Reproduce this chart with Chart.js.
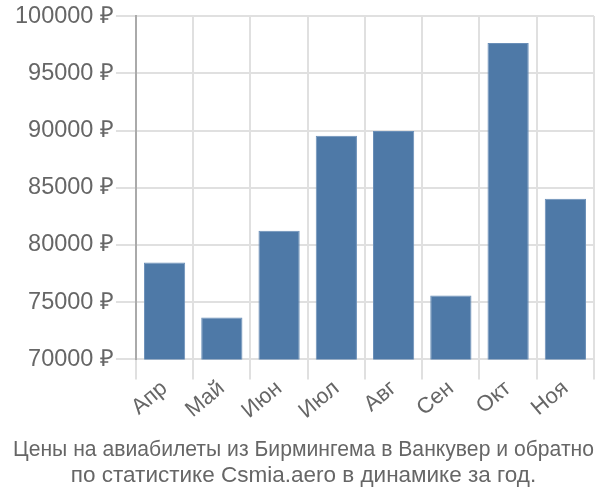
<!DOCTYPE html>
<html>
<head>
<meta charset="utf-8">
<script src="https://cdn.jsdelivr.net/npm/chart.js@4"></script>
<style>
  html, body { margin: 0; padding: 0; background: #fff; }
  #wrap { width: 600px; height: 500px; }
</style>
</head>
<body>
<div id="wrap"><canvas id="priceChart"></canvas></div>
<script>
// Месяцы и цены (руб.)
const months = ['Апр', 'Май', 'Июн', 'Июл', 'Авг', 'Сен', 'Окт', 'Ноя'];
const prices = [78460, 73660, 81250, 89540, 89970, 75580, 97650, 84040];
const yMin = 70000;
const yMax = 100000;
const yStep = 5000;
const titleLines = [
    'Цены на авиабилеты из Бирмингема в Ванкувер и обратно',
    'по статистике Csmia.aero в динамике за год.'
];

const ctx = document.getElementById('priceChart').getContext('2d');
new Chart(ctx, {
    type: 'bar',
    data: {
        labels: months,
        datasets: [{
            data: prices,
            backgroundColor: '#4e79a7',
            borderColor: '#6a8fb8',
            borderWidth: 1
        }]
    },
    options: {
        responsive: true,
        maintainAspectRatio: false,
        animation: false,
        layout: { padding: { left: 13, right: 6, top: 0, bottom: 7 } },
        plugins: {
            legend: { display: false },
            tooltip: { enabled: false },
            title: {
                display: true,
                position: 'bottom',
                text: titleLines,
                color: '#666',
                font: { family: 'Liberation Sans', size: 22.5, weight: 'normal', lineHeight: 1.17 },
                padding: { top: 16, bottom: 4 }
            }
        },
        scales: {
            x: {
                grid: { color: '#e0e0e0', lineWidth: 2, tickLength: 20, offset: true },
                border: { color: '#e0e0e0', width: 2 },
                ticks: {
                    color: '#666',
                    padding: -4,
                    font: { family: 'Liberation Sans', size: 22 },
                    maxRotation: 40,
                    minRotation: 40
                }
            },
            y: {
                min: yMin,
                max: yMax,
                grid: { color: '#e0e0e0', lineWidth: 2, tickLength: 20 },
                border: { color: '#aaa', width: 2 },
                ticks: {
                    stepSize: yStep,
                    color: '#666',
                    padding: 2,
                    font: { family: 'Liberation Sans', size: 23.5 },
                    callback: function(value) {
                        return value + ' ₽';
                    }
                }
            }
        }
    }
});
</script>
</body>
</html>
